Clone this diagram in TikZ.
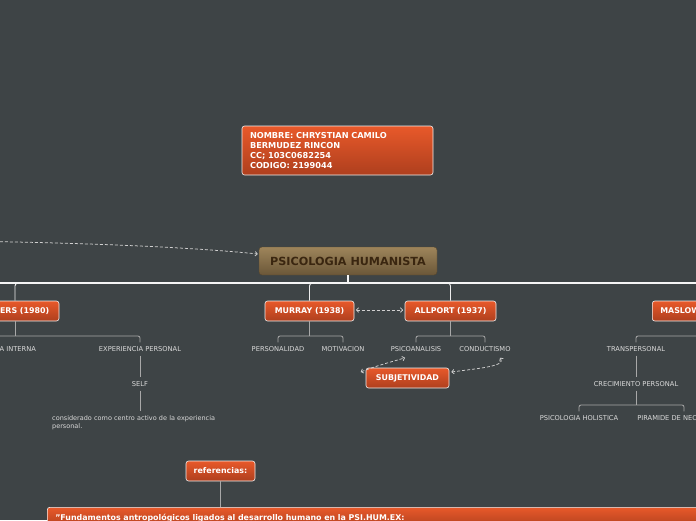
\documentclass[tikz,border=0pt]{standalone}
\usepackage{fontspec}
\setmainfont{DejaVu Sans}
\usetikzlibrary{arrows.meta,calc}
\definecolor{bg}{HTML}{3E4446}
\definecolor{orT}{HTML}{E8592A}
\definecolor{orB}{HTML}{AE3F1E}
\definecolor{hubT}{HTML}{9E855B}
\definecolor{hubB}{HTML}{6B5738}
\definecolor{hubtxt}{HTML}{3A2610}
\definecolor{subtxtc}{HTML}{DADADA}
\definecolor{stemc}{HTML}{A8A8A8}
\definecolor{relc}{HTML}{D0D0D0}
\begin{document}
\begin{tikzpicture}[x=1pt,y=-1pt,
  topicbox/.style={draw=white!88!gray, line width=0.6pt, rounded corners=2.5pt,
    top color=orT, bottom color=orB, text=white, inner sep=0pt,
    font=\bfseries\fontsize{7.9}{9}\selectfont, minimum height=20pt},
  hubbox/.style={draw=hubB!80!black, line width=0.4pt, rounded corners=3pt,
    top color=hubT, bottom color=hubB, text=hubtxt, inner sep=0pt,
    font=\bfseries\fontsize{11.2}{12}\selectfont},
  subtxt/.style={text=subtxtc, font=\fontsize{6.7}{8.2}\selectfont, inner xsep=2pt, inner ysep=4pt},
  stemline/.style={draw=stemc, line width=0.8pt},
  stemw/.style={draw=white!85!gray, line width=0.9pt, rounded corners=3pt},
  busline/.style={draw=white!92!gray, line width=1.3pt},
  relline/.style={draw=relc, line width=0.75pt, dash pattern=on 3pt off 2pt,
    >={Straight Barb[length=2.2pt,width=4.5pt]}},
]
\useasboundingbox (0,0) rectangle (696,520);
\fill[bg] (0,0) rectangle (696,520);
\clip (0,0) rectangle (696,520);

% name box
\node[topicbox, minimum height=49pt, text width=175pt, inner xsep=8pt, align=left,
  font=\bfseries\fontsize{8.2}{9.7}\selectfont] (name) at (337.5,150.5)
  {NOMBRE: CHRYSTIAN CAMILO\\BERMUDEZ RINCON\\CC; 103C0682254\\CODIGO: 2199044};

% hub
\node[hubbox, minimum width=178pt, minimum height=28pt] (hub) at (348,261) {PSICOLOGIA HUMANISTA};

% main topics
\node[topicbox, minimum width=88pt] (rogers) at (15,311) {ROGERS (1980)};
\node[topicbox, minimum width=89pt] (murray) at (309.5,311) {MURRAY (1938)};
\node[topicbox, minimum width=91pt] (allport) at (450.5,311) {ALLPORT (1937)};
\node[topicbox, anchor=west, text width=80pt, inner xsep=8pt, align=left] (maslow) at (652,311) {MASLOW};
\node[topicbox, minimum width=83pt] (subj) at (407.5,378) {SUBJETIVIDAD};
\node[topicbox, minimum width=69pt] (ref) at (220.5,471) {referencias:};
\node[topicbox, anchor=north west, text width=680pt, inner xsep=8pt, inner ysep=0pt, align=left,
  minimum height=0pt, font=\bfseries\fontsize{7.9}{9}\selectfont] (bib) at (47,507)
  {\rule{0pt}{13pt}"Fundamentos antropológicos ligados al desarrollo humano en la PSI.HUM.EX:\rule[-8pt]{0pt}{8pt}};

% subtopics
\node[subtxt] (ei) at (-2,349) {EXPERIENCIA INTERNA};
\node[subtxt] (ep) at (140,349) {EXPERIENCIA PERSONAL};
\node[subtxt] (self) at (140,384) {SELF};
\node[subtxt, anchor=north west, text width=172pt, align=left,
  font=\fontsize{6.5}{8.2}\selectfont] (cons) at (50,411)
  {considerado como centro activo de la experiencia personal.};
\node[subtxt] (pers) at (278,349) {PERSONALIDAD};
\node[subtxt] (motiv) at (343,349) {MOTIVACION};
\node[subtxt] (psico) at (416,349) {PSICOANALISIS};
\node[subtxt] (cond) at (485,349) {CONDUCTISMO};
\node[subtxt] (trans) at (636,349) {TRANSPERSONAL};
\node[subtxt] (crec) at (636,384) {CRECIMIENTO PERSONAL};
\node[subtxt] (holis) at (579,418) {PSICOLOGIA HOLISTICA};
\node[subtxt] (pira) at (684,418) {PIRAMIDE DE NECESIDADES};

% junctions
\coordinate (bus) at (348,283);
\coordinate (busL) at (-5,283);
\coordinate (busR) at (701,283);
\coordinate (rj) at (15,336);
\coordinate (mj) at (309.5,336);
\coordinate (aj) at (450.5,336);
\coordinate (sj) at (700,336);
\coordinate (cj) at (636,405);

% stems from bus
\draw[stemw] (rogers.north) |- (bus);
\draw[stemw] (murray.north) |- (bus);
\draw[stemw] (allport.north) |- (bus);
\draw[stemw] (maslow.north -| sj) |- (bus);
\draw[busline] (busL) -- (busR);
\draw[busline] (hub.south) -- (bus);

% brackets
\draw[stemline] (rogers.south) -- (rj);
\draw[stemline, rounded corners=2pt] (ei.north) |- (rj) -| (ep.north);
\draw[stemline] (ep) -- (self);
\draw[stemline] (self.south) -- (self.south |- cons.north);
\draw[stemline] (murray.south) -- (mj);
\draw[stemline, rounded corners=2pt] (pers.north) |- (mj) -| (motiv.north);
\draw[stemline] (allport.south) -- (aj);
\draw[stemline, rounded corners=2pt] (psico.north) |- (aj) -| (cond.north);
\draw[stemline] (sj |- maslow.south) -- (sj);
\draw[stemline, rounded corners=2pt] (trans.north) |- (sj);
\draw[stemline] (trans) -- (crec);
\draw[stemline] (crec.south) -- (cj);
\draw[stemline, rounded corners=2pt] (holis.north) |- (cj) -| (pira.north);
\draw[stemline] (ref.south) -- (ref.south |- bib.north);

% relationships
\coordinate (farL) at (-40,241);
\draw[relline, ->] (farL) .. controls (100,243) and (200,248) .. ($(hub.west)+(-1,-7)$);
\draw[relline, <->] ($(murray.east)+(1.5,-1)$) -- ($(allport.west)+(-1.5,-1)$);
\draw[relline, <->] ($(subj.west)+(-5,-6)$) .. controls (378,365) and (395,361) .. ($(psico.south)+(-11,2)$);
\draw[relline, <->] ($(subj.east)+(2,-6)$) .. controls (482,368) and (506,366) .. ($(cond.south)+(15,2)$);
\end{tikzpicture}
\end{document}
